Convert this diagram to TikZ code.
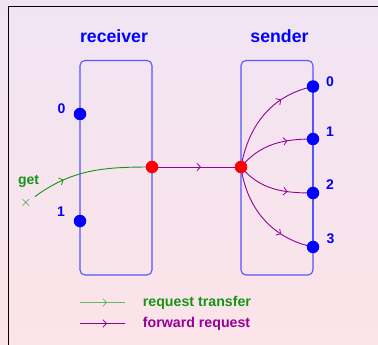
\documentclass[tikz,border=0pt]{standalone}
\usepackage{fontspec}
\setmainfont{Liberation Sans}
\usetikzlibrary{arrows.meta,decorations.markings}
\pgfdeclarelayer{paper}
\pgfdeclarelayer{bg}
\pgfsetlayers{paper,bg,main}
\definecolor{boxblue}{RGB}{85,85,255}
\definecolor{dotblue}{RGB}{0,0,255}
\definecolor{dotred}{RGB}{255,0,0}
\definecolor{fwd}{RGB}{150,0,150}
\definecolor{req}{RGB}{20,150,20}
\definecolor{reqlight}{RGB}{100,185,100}
\definecolor{topbg}{RGB}{240,228,244}
\definecolor{botbg}{RGB}{252,228,232}
\tikzset{
  portdot/.style={circle,fill=dotblue,inner sep=0pt,minimum size=12.5pt},
  hubdot/.style={circle,fill=dotred,inner sep=0pt,minimum size=12.5pt},
  unitbox/.style={draw=boxblue,line width=1.1pt,rounded corners=5pt},
  title/.style={text=dotblue,font=\fontsize{17.7}{20}\selectfont\bfseries},
  portlabel/.style={text=dotblue,font=\fontsize{14}{16}\selectfont\bfseries},
  midarrow/.style={postaction={decorate,decoration={markings,
      mark=at position #1 with {\arrow{Straight Barb[length=3.5pt,width=7.5pt,line width=0.8pt]}}}}},
  fwdline/.style={draw=fwd,line width=0.9pt},
  reqline/.style={draw=req,line width=0.9pt},
}
\begin{document}
\begin{tikzpicture}[x=1pt,y=-1pt]
% page background and frame
\begin{pgfonlayer}{paper}
  \shade[top color=topbg,bottom color=botbg] (0,0) rectangle (378,345);
\end{pgfonlayer}
\useasboundingbox (0,0) rectangle (378,345);
\draw[line width=1.5pt] (8.5,346) -- (8.5,6.5) -- (379,6.5);

% titles
\node[title] (rtitle) at (114,36) {receiver};
\node[title] (stitle) at (279.5,36) {sender};

% ports
\node[portdot] (r0) at (80,114) {};
\node[portdot] (r1) at (80,221) {};
\node[hubdot] (rh) at (152,167) {};
\node[hubdot] (sh) at (241,167) {};
\node[portdot] (s0) at (313,86.5) {};
\node[portdot] (s1) at (313,139) {};
\node[portdot] (s2) at (313,193) {};
\node[portdot] (s3) at (313,247) {};

\node[portlabel] (l_r0) at (61.5,108.5) {0};
\node[portlabel] (l_r1) at (61,211.5) {1};
\node[portlabel] (l_s0) at (330,82) {0};
\node[portlabel] (l_s1) at (330,131.5) {1};
\node[portlabel] (l_s2) at (330,185) {2};
\node[portlabel] (l_s3) at (330.5,239) {3};

% entry point of the get request
\node[text=req,font=\fontsize{14}{15}\selectfont] (x) at (26,202.5) {$\times$};
\node[text=req,font=\fontsize{14}{16}\selectfont\bfseries] (get) at (28.5,181.5) {get};
\coordinate (gstart) at (35,196.5);

\begin{pgfonlayer}{bg}
  \draw[unitbox] (80,60.5) rectangle (152,275);
  \draw[unitbox] (241,60.5) rectangle (313,275);
  \draw[draw=boxblue,line width=2pt] (s0.center) -- (s3.center);

  \draw[reqline,midarrow=0.27] (gstart) to[out=36,in=180] (rh.center);
  \draw[fwdline,midarrow=0.55] (rh.center) -- (sh.center);
  \draw[fwdline,midarrow=0.7] (sh.center) to[out=80,in=192] (s0.center);
  \draw[fwdline,midarrow=0.68] (sh.center) to[out=50,in=180] (s1.center);
  \draw[fwdline,midarrow=0.68] (sh.center) to[out=-50,in=180] (s2.center);
  \draw[fwdline,midarrow=0.7] (sh.center) to[out=-82,in=168] (s3.center);
\end{pgfonlayer}

% legend
\coordinate (la1) at (80,302.5);
\coordinate (lb1) at (125,302.5);
\coordinate (la2) at (80,323.5);
\coordinate (lb2) at (125,323.5);
\draw[draw=reqlight,line width=1.1pt,midarrow=0.6] (la1) -- (lb1);
\draw[fwdline,midarrow=0.6] (la2) -- (lb2);
\node[anchor=west,text=req,font=\fontsize{14.2}{16}\selectfont\bfseries,inner sep=0pt] (t1) at (142.7,302.5) {request transfer};
\node[anchor=west,text=fwd,font=\fontsize{14.2}{16}\selectfont\bfseries,inner sep=0pt] (t2) at (142.7,323.5) {forward request};
\end{tikzpicture}
\end{document}
